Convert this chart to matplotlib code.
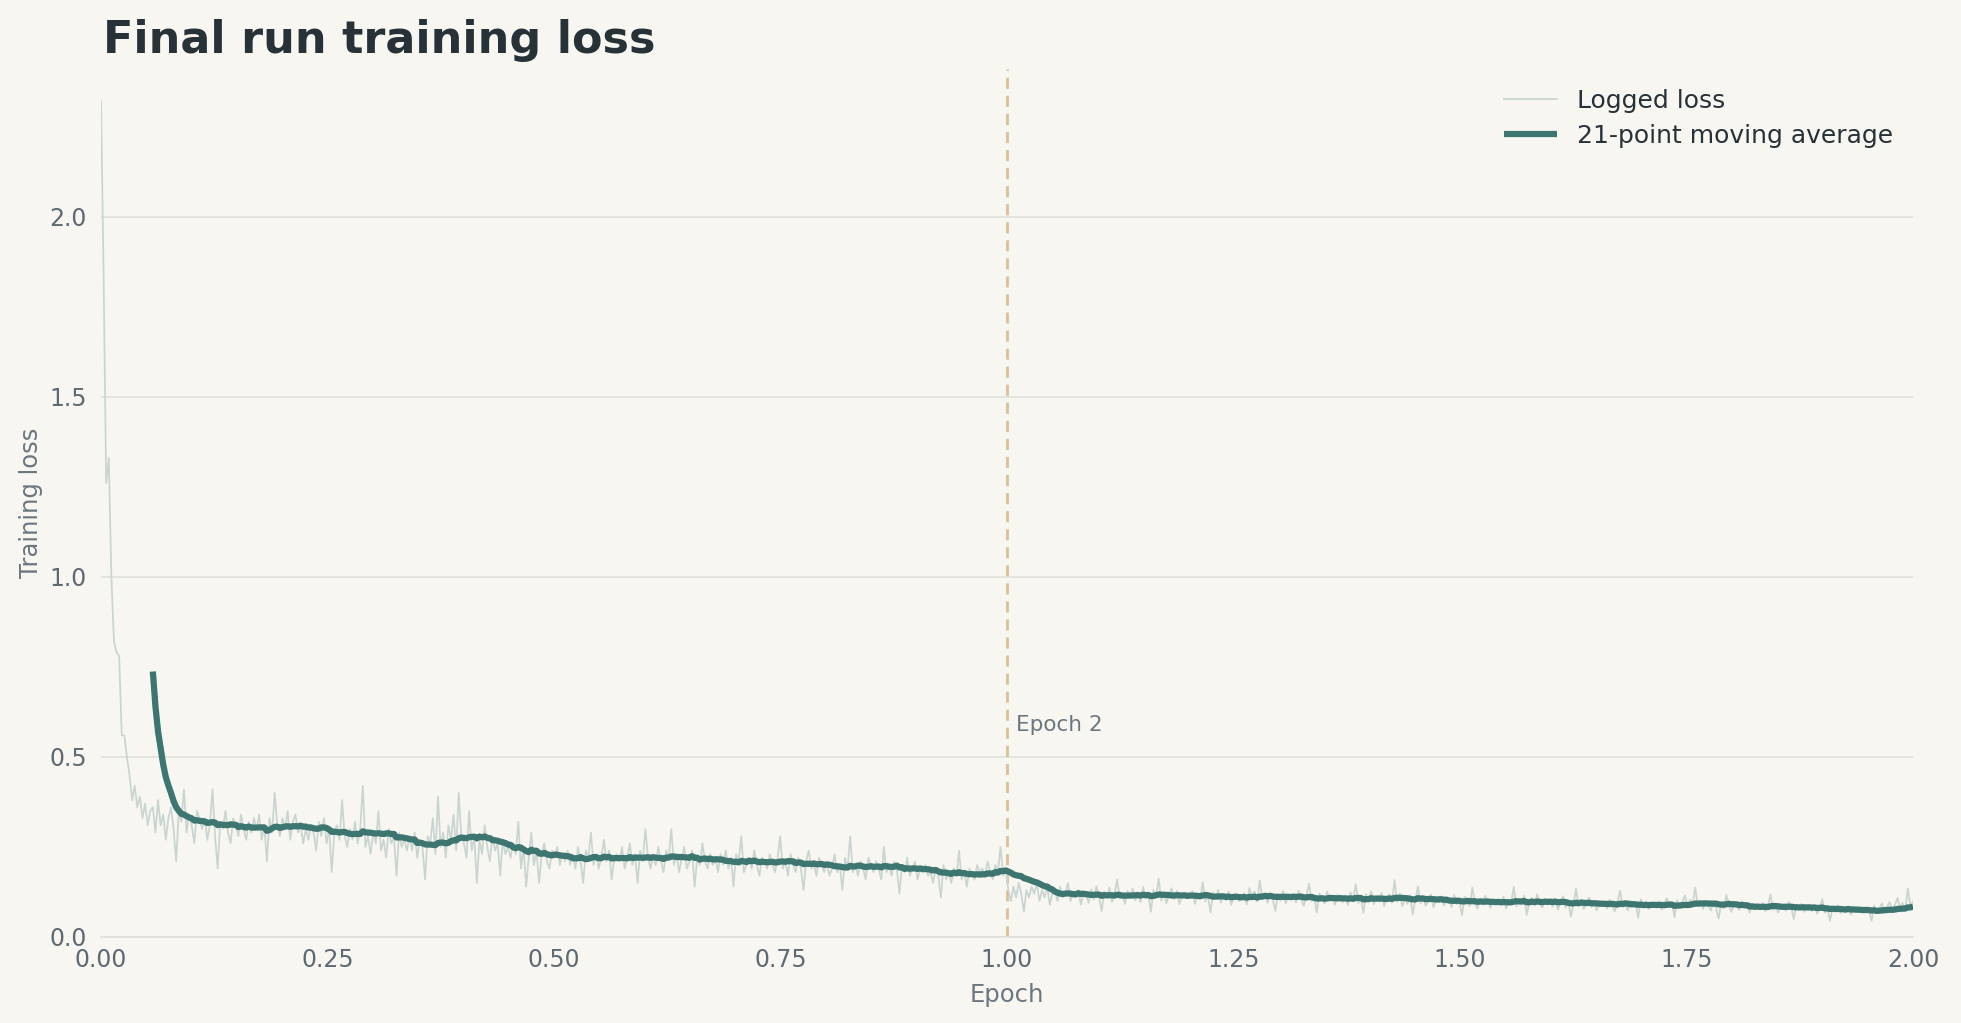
import numpy as np
import pandas as pd
import matplotlib
matplotlib.use("Agg")
import matplotlib.pyplot as plt

# ---- data: logged training loss (700 log steps over 2 epochs) ----
loss_rows = [
    [2.32, 1.84, 1.26, 1.33, 1.00, 0.82, 0.79, 0.78, 0.56, 0.56, 0.50, 0.45, 0.38, 0.42, 0.36, 0.39, 0.33, 0.37, 0.31, 0.35],
    [0.36, 0.29, 0.38, 0.31, 0.34, 0.27, 0.33, 0.36, 0.30, 0.21, 0.35, 0.32, 0.41, 0.29, 0.34, 0.31, 0.26, 0.35, 0.33, 0.30],
    [0.33, 0.27, 0.31, 0.41, 0.28, 0.19, 0.32, 0.30, 0.35, 0.29, 0.26, 0.33, 0.31, 0.28, 0.34, 0.30, 0.27, 0.32, 0.29, 0.33],
    [0.30, 0.34, 0.27, 0.31, 0.21, 0.33, 0.29, 0.40, 0.31, 0.28, 0.33, 0.30, 0.35, 0.27, 0.32, 0.34, 0.29, 0.31, 0.26, 0.30],
    [0.27, 0.31, 0.29, 0.24, 0.32, 0.28, 0.33, 0.26, 0.30, 0.18, 0.29, 0.31, 0.27, 0.38, 0.28, 0.25, 0.30, 0.27, 0.32, 0.26],
    [0.30, 0.42, 0.25, 0.28, 0.23, 0.29, 0.26, 0.35, 0.24, 0.27, 0.22, 0.30, 0.26, 0.28, 0.17, 0.29, 0.25, 0.27, 0.24, 0.28],
    [0.24, 0.29, 0.22, 0.27, 0.25, 0.16, 0.28, 0.26, 0.33, 0.23, 0.39, 0.25, 0.29, 0.22, 0.31, 0.27, 0.34, 0.24, 0.40, 0.28],
    [0.26, 0.22, 0.35, 0.24, 0.28, 0.15, 0.27, 0.23, 0.31, 0.25, 0.21, 0.28, 0.24, 0.26, 0.17, 0.27, 0.23, 0.25, 0.22, 0.26],
    [0.23, 0.32, 0.19, 0.25, 0.14, 0.22, 0.29, 0.20, 0.24, 0.15, 0.23, 0.26, 0.21, 0.19, 0.24, 0.22, 0.25, 0.20, 0.23, 0.21],
    [0.24, 0.20, 0.23, 0.19, 0.25, 0.21, 0.15, 0.24, 0.22, 0.29, 0.20, 0.23, 0.19, 0.22, 0.27, 0.21, 0.24, 0.16, 0.22, 0.23],
    [0.21, 0.25, 0.19, 0.22, 0.26, 0.20, 0.23, 0.15, 0.24, 0.21, 0.30, 0.22, 0.19, 0.23, 0.20, 0.25, 0.21, 0.18, 0.24, 0.22],
    [0.30, 0.20, 0.23, 0.18, 0.22, 0.25, 0.19, 0.21, 0.24, 0.14, 0.22, 0.20, 0.26, 0.21, 0.19, 0.23, 0.20, 0.22, 0.18, 0.23],
    [0.20, 0.24, 0.19, 0.22, 0.14, 0.23, 0.21, 0.28, 0.18, 0.20, 0.22, 0.19, 0.24, 0.20, 0.17, 0.22, 0.21, 0.19, 0.23, 0.20],
    [0.18, 0.22, 0.28, 0.19, 0.21, 0.17, 0.23, 0.20, 0.18, 0.22, 0.19, 0.13, 0.21, 0.24, 0.19, 0.20, 0.17, 0.22, 0.20, 0.18],
    [0.21, 0.17, 0.19, 0.23, 0.18, 0.20, 0.13, 0.22, 0.19, 0.28, 0.18, 0.20, 0.17, 0.21, 0.19, 0.16, 0.22, 0.20, 0.18, 0.21],
    [0.19, 0.16, 0.25, 0.18, 0.20, 0.17, 0.21, 0.19, 0.12, 0.20, 0.18, 0.22, 0.17, 0.19, 0.21, 0.16, 0.19, 0.18, 0.20, 0.17],
    [0.18, 0.15, 0.19, 0.17, 0.11, 0.20, 0.16, 0.18, 0.15, 0.19, 0.17, 0.24, 0.16, 0.18, 0.14, 0.19, 0.17, 0.16, 0.20, 0.18],
    [0.19, 0.17, 0.21, 0.18, 0.16, 0.20, 0.18, 0.25, 0.17, 0.19, 0.13, 0.10, 0.14, 0.11, 0.15, 0.12, 0.07, 0.13, 0.11, 0.14],
    [0.12, 0.15, 0.10, 0.13, 0.11, 0.14, 0.09, 0.12, 0.13, 0.10, 0.14, 0.11, 0.12, 0.15, 0.10, 0.12, 0.11, 0.13, 0.09, 0.12],
    [0.118, 0.095, 0.132, 0.104, 0.141, 0.112, 0.072, 0.126, 0.109, 0.137, 0.098, 0.121, 0.160, 0.106, 0.115, 0.092, 0.128, 0.111, 0.134, 0.102],
    [0.125, 0.097, 0.139, 0.108, 0.119, 0.070, 0.131, 0.112, 0.162, 0.101, 0.123, 0.094, 0.117, 0.135, 0.105, 0.128, 0.091, 0.114, 0.122, 0.107],
    [0.113, 0.128, 0.092, 0.119, 0.104, 0.152, 0.098, 0.115, 0.068, 0.124, 0.109, 0.131, 0.096, 0.118, 0.102, 0.126, 0.089, 0.112, 0.121, 0.100],
    [0.104, 0.122, 0.091, 0.136, 0.112, 0.127, 0.099, 0.157, 0.108, 0.118, 0.095, 0.124, 0.106, 0.072, 0.119, 0.101, 0.127, 0.093, 0.112, 0.105],
    [0.119, 0.096, 0.128, 0.103, 0.087, 0.115, 0.148, 0.099, 0.110, 0.068, 0.121, 0.107, 0.093, 0.126, 0.101, 0.114, 0.090, 0.118, 0.105, 0.097],
    [0.112, 0.089, 0.124, 0.101, 0.147, 0.094, 0.108, 0.067, 0.119, 0.102, 0.127, 0.091, 0.113, 0.098, 0.122, 0.086, 0.109, 0.118, 0.095, 0.158],
    [0.097, 0.121, 0.085, 0.108, 0.092, 0.116, 0.063, 0.103, 0.141, 0.094, 0.111, 0.087, 0.099, 0.118, 0.082, 0.105, 0.096, 0.113, 0.088, 0.101],
    [0.108, 0.083, 0.117, 0.091, 0.102, 0.060, 0.112, 0.095, 0.086, 0.137, 0.093, 0.079, 0.106, 0.089, 0.114, 0.097, 0.081, 0.103, 0.092, 0.099],
    [0.088, 0.112, 0.079, 0.104, 0.096, 0.139, 0.085, 0.101, 0.091, 0.115, 0.061, 0.098, 0.109, 0.087, 0.118, 0.093, 0.082, 0.106, 0.094, 0.100],
    [0.084, 0.107, 0.076, 0.095, 0.113, 0.081, 0.099, 0.056, 0.092, 0.134, 0.086, 0.101, 0.078, 0.094, 0.109, 0.083, 0.097, 0.074, 0.091, 0.088],
    [0.096, 0.079, 0.104, 0.085, 0.071, 0.098, 0.128, 0.083, 0.090, 0.074, 0.101, 0.087, 0.093, 0.053, 0.105, 0.082, 0.097, 0.078, 0.089, 0.094],
    [0.082, 0.099, 0.076, 0.091, 0.108, 0.085, 0.094, 0.055, 0.102, 0.088, 0.097, 0.115, 0.083, 0.104, 0.092, 0.137, 0.086, 0.099, 0.078, 0.095],
    [0.088, 0.073, 0.096, 0.081, 0.051, 0.092, 0.079, 0.117, 0.084, 0.070, 0.093, 0.086, 0.075, 0.098, 0.082, 0.089, 0.068, 0.091, 0.077, 0.087],
    [0.079, 0.094, 0.071, 0.086, 0.118, 0.075, 0.083, 0.068, 0.091, 0.080, 0.073, 0.097, 0.084, 0.050, 0.088, 0.077, 0.092, 0.070, 0.085, 0.081],
    [0.072, 0.086, 0.065, 0.079, 0.105, 0.068, 0.077, 0.045, 0.083, 0.074, 0.088, 0.066, 0.078, 0.071, 0.084, 0.062, 0.076, 0.081, 0.069, 0.073],
    [0.068, 0.082, 0.074, 0.045, 0.087, 0.071, 0.079, 0.093, 0.066, 0.084, 0.097, 0.075, 0.089, 0.108, 0.081, 0.094, 0.072, 0.135, 0.086, 0.099],
]
logged_loss = [v for row in loss_rows for v in row]
num_epochs = 2
epoch_boundary = 1.0
window = 21
x_ticks = [0.0, 0.25, 0.5, 0.75, 1.0, 1.25, 1.5, 1.75, 2.0]
y_ticks = [0.0, 0.5, 1.0, 1.5, 2.0]

epoch = np.linspace(0, num_epochs, len(logged_loss))
moving_avg = pd.Series(logged_loss).rolling(window).mean()

# ---- style ----
BG = "#f7f6f1"
TEAL = "#3d7570"
RAW = "#c9d5d0"
GRID = "#dddfd9"
TICK = "#5d6a72"
LABEL = "#6b777f"
DARK = "#263238"

fig = plt.figure(figsize=(19.61, 10.23), dpi=100, facecolor=BG)
ax = fig.add_axes([101 / 1961, 1 - 937 / 1023, (1913 - 101) / 1961, (937 - 69) / 1023])
ax.set_facecolor(BG)

ax.plot(epoch, logged_loss, color=RAW, lw=1.25, label="Logged loss", zorder=2)
ax.plot(epoch, moving_avg, color=TEAL, lw=4.5, label=f"{window}-point moving average",
        zorder=3, solid_capstyle="butt")
ax.axvline(epoch_boundary, color="#d8c195", lw=2.0, ls=(0, (4, 2.5)), zorder=1)
ax.text(epoch_boundary + 0.01, 0.59, "Epoch 2", color=LABEL, fontsize=15.5,
        ha="left", va="center")

ax.set_xlim(0, num_epochs)
ax.set_ylim(0, 2.41)
ax.set_xticks(x_ticks)
ax.set_xticklabels([f"{t:.2f}" for t in x_ticks])
ax.set_yticks(y_ticks)
ax.set_yticklabels([f"{t:.1f}" for t in y_ticks])
ax.tick_params(axis="both", length=0, labelsize=17, labelcolor=TICK)
ax.tick_params(axis="x", pad=8)
ax.tick_params(axis="y", pad=10)
ax.yaxis.grid(True, color=GRID, lw=1.1)
ax.xaxis.grid(False)
ax.set_axisbelow(True)
for s in ["top", "right", "left"]:
    ax.spines[s].set_visible(False)
ax.spines["bottom"].set_color(GRID)
ax.spines["bottom"].set_linewidth(1.1)

ax.set_xlabel("Epoch", fontsize=17.5, color=LABEL, labelpad=8)
ax.set_ylabel("Training loss", fontsize=17.5, color=LABEL, labelpad=5)

leg = ax.legend(loc="upper right", frameon=False, fontsize=18, handlelength=2.1,
                borderaxespad=0.4, labelspacing=0.45)
for t in leg.get_texts():
    t.set_color(DARK)

fig.text(103 / 1961, 1 - 53 / 1023, "Final run training loss", fontsize=32,
         fontweight="bold", color=DARK, ha="left", va="baseline")

fig.savefig("out.png", dpi=100, facecolor=BG)
